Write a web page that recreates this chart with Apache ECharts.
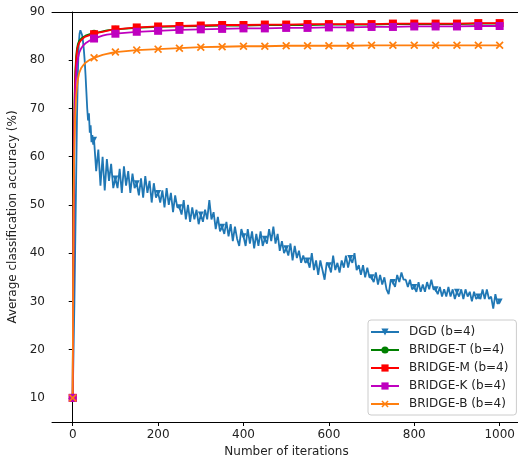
<!DOCTYPE html>
<html>
<head>
<meta charset="utf-8">
<script src="https://cdn.jsdelivr.net/npm/echarts@6/dist/echarts.min.js"></script>
<style>
  html, body { margin: 0; padding: 0; background: #fff; }
  #chart { width: 518px; height: 457px; }
</style>
</head>
<body>
<div id="chart"></div>
<script>
// tick labels
const xTicks = [0, 200, 400, 600, 800, 1000]
const yTicks = [10, 20, 30, 40, 50, 60, 70, 80, 90]

// DGD: early iterations, then one reading every 5 iterations from 50 to 1000
const dgdEarlyIter = [0, 4, 8, 10, 12, 14, 16, 18, 20, 22, 24, 26, 28, 30, 32, 34, 36, 38, 40, 42, 44, 46, 48]
const dgdEarlyAcc = [10, 30, 55, 68, 77, 83, 85.5, 86.2, 86.0, 85.2, 84.0, 82.3, 80.0, 77.0, 73.5, 70.0, 67.5, 69.0, 65.0, 66.5, 63.0, 64.5, 62.5]
const dgdAcc = [
  63.5, 57.0, 61.5, 54.0, 60.0, 53.0, 59.5, 55.0, 58.5, 53.5,
  55.5, 53.5, 57.5, 52.5, 58.0, 54.0, 57.0, 52.5, 56.5, 53.5,
  54.5, 52.0, 55.5, 51.5, 56.0, 52.5, 55.0, 50.5, 54.5, 51.5,
  52.5, 50.5, 53.0, 49.5, 53.5, 50.0, 52.5, 48.5, 52.0, 49.5,
  49.5, 48.0, 51.0, 47.0, 50.0, 46.5, 49.5, 47.0, 49.0, 46.0,
  48.0, 46.5, 49.0, 47.0, 51.0, 47.0, 48.5, 45.0, 47.5, 44.5,
  45.5, 44.0, 46.5, 43.5, 46.0, 42.5, 45.5, 43.0, 41.5, 45.0,
  43.5, 41.5, 45.0, 42.0, 44.5, 41.0, 44.0, 41.5, 44.5, 41.5,
  43.0, 42.0, 45.0, 42.5, 45.5, 42.0, 44.0, 40.5, 42.5, 40.0,
  41.0, 39.5, 42.0, 38.5, 41.5, 39.0, 40.5, 38.0, 39.5, 38.0,
  38.5, 37.0, 40.0, 36.5, 38.5, 35.5, 38.5, 36.5, 34.5, 38.0,
  37.5, 36.0, 39.5, 36.5, 38.0, 36.0, 38.5, 37.0, 39.5, 37.0,
  39.0, 38.0, 40.0, 36.5, 37.5, 35.5, 37.5, 35.0, 37.0, 35.0,
  35.0, 34.0, 36.0, 33.5, 35.5, 33.5, 35.0, 32.5, 31.5, 34.5,
  34.0, 33.0, 35.5, 34.0, 36.0, 34.5, 34.5, 33.0, 34.5, 32.5,
  33.0, 32.0, 34.0, 32.0, 33.5, 32.0, 34.0, 32.5, 34.5, 32.5,
  32.5, 31.5, 33.0, 31.0, 32.5, 31.0, 33.0, 31.0, 32.5, 30.5,
  32.0, 31.0, 32.5, 30.5, 32.5, 31.0, 32.0, 30.0, 32.0, 30.5,
  31.0, 30.5, 32.5, 30.5, 32.5, 30.5, 31.0, 28.5, 31.5, 29.5,
  30.0
]

// BRIDGE variants, sampled at these iterations
const bridgeIter = [0, 1, 2, 3, 4, 5, 6, 8, 10, 12, 15, 20, 25, 30, 40, 50, 60, 70, 80, 90,
  100, 150, 200, 250, 300, 350, 400, 450, 500, 550, 600, 650, 700, 750, 800, 850, 900, 950, 1000]
const bridgeT = [10, 32, 50, 62, 70, 74.5, 77.5, 80.8, 82.4, 83.3, 84.0, 84.5, 84.8, 85.1, 85.4, 85.6, 85.8, 86.0, 86.2, 86.3,
  86.4, 86.7, 86.9, 87.0, 87.1, 87.2, 87.2, 87.3, 87.3, 87.3, 87.4, 87.4, 87.4, 87.5, 87.5, 87.5, 87.5, 87.6, 87.6]
const bridgeM = [10, 30, 48, 60, 68, 73, 76.5, 80, 81.8, 82.8, 83.6, 84.2, 84.6, 84.9, 85.2, 85.4, 85.7, 85.9, 86.1, 86.3,
  86.4, 86.8, 87.0, 87.1, 87.2, 87.3, 87.3, 87.4, 87.4, 87.5, 87.5, 87.5, 87.5, 87.6, 87.6, 87.6, 87.6, 87.7, 87.7]
const bridgeK = [10, 28, 45, 57, 65, 70, 73.5, 77, 79, 80.3, 81.5, 82.5, 83.1, 83.5, 84.1, 84.5, 84.8, 85.1, 85.3, 85.4,
  85.5, 85.9, 86.1, 86.3, 86.4, 86.5, 86.6, 86.6, 86.7, 86.7, 86.8, 86.8, 86.9, 86.9, 87.0, 87.0, 87.0, 87.1, 87.1]
const bridgeB = [10, 35, 50, 58, 63, 66.5, 69, 72.5, 74.5, 76, 77.3, 78.4, 79.0, 79.5, 80.1, 80.5, 80.8, 81.1, 81.3, 81.5,
  81.7, 82.1, 82.3, 82.5, 82.7, 82.8, 82.9, 82.9, 83.0, 83.0, 83.0, 83.0, 83.1, 83.1, 83.1, 83.1, 83.1, 83.1, 83.1]

const FONT = 'DejaVu Sans'
const TRI_DOWN = 'path://M0,0L10,0L5,9Z'
const CROSS = 'path://M0,1.5L1.5,0L5,3.5L8.5,0L10,1.5L6.5,5L10,8.5L8.5,10L5,6.5L1.5,10L0,8.5L3.5,5Z'

// markers only every 50 iterations, like markevery in the original
function points (iters, vals) {
  return iters.map(function (x, i) {
    const item = { value: [x, vals[i]] }
    if (x % 50 !== 0) item.symbol = 'none'
    return item
  })
}

const dgdIter = dgdEarlyIter.slice()
for (let i = 0; i < dgdAcc.length; i++) dgdIter.push(50 + i * 5)
const dgdAll = dgdEarlyAcc.concat(dgdAcc)

function lineSeries (name, color, symbol, size, data) {
  return {
    name: name,
    type: 'line',
    data: data,
    symbol: symbol,
    symbolSize: size,
    showAllSymbol: true,
    color: color,
    lineStyle: { width: 1.8, color: color },
    itemStyle: { color: color, borderWidth: 0 },
    emphasis: { disabled: true },
    z: 2
  }
}

const chart = echarts.init(document.getElementById('chart'), null, { renderer: 'canvas', width: 518, height: 457 })

const axisText = { color: '#222', fontFamily: FONT, fontSize: 12 }
const plain = function (v) { return String(v) }

const option = {
  animation: false,
  backgroundColor: '#fff',
  grid: { left: 52, top: 12, right: -3, bottom: 35, outerBoundsMode: 'none', containLabel: false },
  xAxis: [
    {
      type: 'value',
      min: -48.5,
      max: 1050,
      name: 'Number of iterations',
      nameLocation: 'middle',
      nameGap: 23,
      nameTextStyle: axisText,
      axisLine: { show: true, lineStyle: { color: '#000', width: 1 } },
      axisTick: { show: true, inside: false, length: 4, lineStyle: { color: '#000' }, customValues: xTicks },
      axisLabel: Object.assign({ margin: 7, customValues: xTicks, formatter: plain }, axisText),
      splitLine: { show: false }
    },
    {
      type: 'value',
      position: 'top',
      min: -48.5,
      max: 1050,
      axisLine: { show: true, lineStyle: { color: '#000', width: 1 } },
      axisTick: { show: false },
      axisLabel: { show: false },
      splitLine: { show: false }
    }
  ],
  yAxis: {
    type: 'value',
    min: 5,
    max: 90,
    name: 'Average classification accuracy (%)',
    nameLocation: 'middle',
    nameGap: 28,
    nameTextStyle: axisText,
    axisLine: { show: true, lineStyle: { color: '#000', width: 1 } },
    axisTick: { show: true, inside: false, length: 4, lineStyle: { color: '#000' }, customValues: yTicks },
    axisLabel: Object.assign({ margin: 7, customValues: yTicks, formatter: plain }, axisText),
    splitLine: { show: false }
  },
  legend: {
    orient: 'vertical',
    left: 368,
    top: 320,
    itemWidth: 28,
    itemHeight: 9,
    itemGap: 4,
    padding: [5, 8, 4, 2],
    backgroundColor: 'rgba(255,255,255,0.8)',
    borderColor: '#cccccc',
    borderWidth: 1,
    borderRadius: 3,
    textStyle: { color: '#222', fontFamily: FONT, fontSize: 12, lineHeight: 14, padding: [0, 0, 0, 5] },
    data: ['DGD (b=4)', 'BRIDGE-T (b=4)', 'BRIDGE-M (b=4)', 'BRIDGE-K (b=4)', 'BRIDGE-B (b=4)']
  },
  series: [
    lineSeries('DGD (b=4)', '#1f77b4', TRI_DOWN, 6, points(dgdIter, dgdAll)),
    lineSeries('BRIDGE-T (b=4)', '#008000', 'circle', 7, points(bridgeIter, bridgeT)),
    lineSeries('BRIDGE-M (b=4)', '#ff0000', 'rect', 8, points(bridgeIter, bridgeM)),
    lineSeries('BRIDGE-K (b=4)', '#bf00bf', 'rect', 8, points(bridgeIter, bridgeK)),
    lineSeries('BRIDGE-B (b=4)', '#ff7f0e', CROSS, 8, points(bridgeIter, bridgeB))
  ]
}

chart.setOption(option)
</script>
</body>
</html>
